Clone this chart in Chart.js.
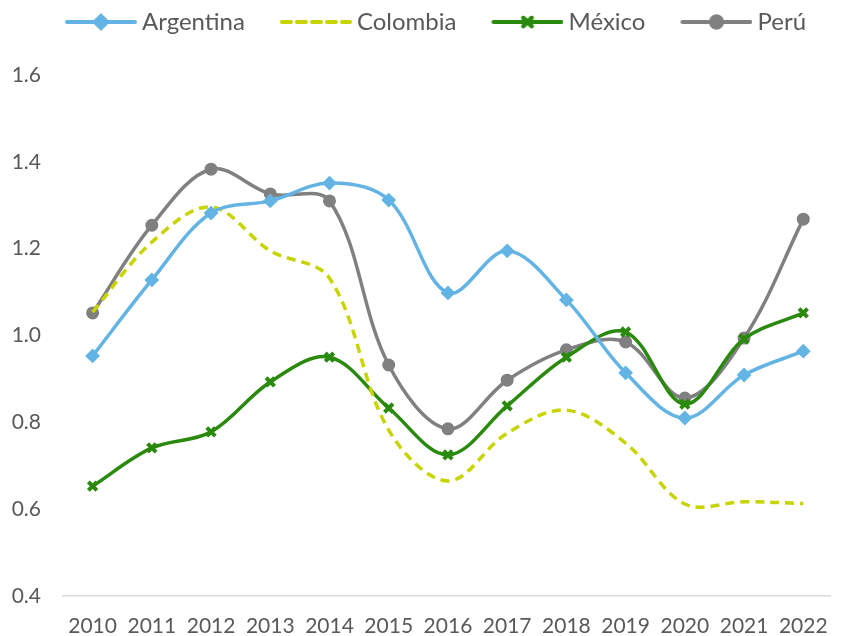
<!DOCTYPE html>
<html>
<head>
<meta charset="utf-8">
<script src="https://cdn.jsdelivr.net/npm/chart.js@4"></script>
<style>
  html, body { margin: 0; padding: 0; background: #fff; }
  #wrap { width: 846px; height: 636px; }
</style>
</head>
<body>
<div id="wrap"><canvas id="chart" width="846" height="636"></canvas></div>
<script>
const years = [2010, 2011, 2012, 2013, 2014, 2015, 2016, 2017, 2018, 2019, 2020, 2021, 2022];
const argentina = [0.953, 1.128, 1.282, 1.310, 1.351, 1.312, 1.098, 1.195, 1.082, 0.914, 0.810, 0.909, 0.964];
const colombia = [1.054, 1.215, 1.296, 1.195, 1.132, 0.782, 0.665, 0.775, 0.828, 0.752, 0.612, 0.617, 0.613];
const mexico = [0.653, 0.741, 0.778, 0.893, 0.950, 0.833, 0.725, 0.838, 0.950, 1.008, 0.842, 0.992, 1.052];
const peru = [1.052, 1.254, 1.383, 1.326, 1.310, 0.932, 0.785, 0.897, 0.967, 0.985, 0.856, 0.994, 1.268];
const yTicks = [0.4, 0.6, 0.8, 1.0, 1.2, 1.4, 1.6];

const FONT = 'Lato, "Open Sans", sans-serif';
const TEXT = '#595959';

const series = [
  { label: 'Argentina', data: argentina, color: '#63B4E4', marker: 'rectRot', radius: 6, dash: [] },
  { label: 'Colombia', data: colombia, color: '#C8D400', marker: false, radius: 0, dash: [9, 6] },
  { label: 'México', data: mexico, color: '#2A8A0E', marker: 'crossRot', radius: 6, dash: [] },
  { label: 'Perú', data: peru, color: '#808080', marker: 'circle', radius: 5.5, dash: [] }
];

// legend sample: line with a marker in the middle (drawn on a small canvas)
function legendSample(s) {
  const c = document.createElement('canvas');
  c.width = 104; c.height = 18;
  const g = c.getContext('2d');
  g.strokeStyle = s.color;
  g.lineWidth = 4;
  g.lineCap = 'round';
  g.setLineDash(s.dash);
  g.beginPath();
  g.moveTo(34, 9);
  g.lineTo(102, 9);
  g.stroke();
  g.setLineDash([]);
  if (s.marker) {
    Chart.helpers.drawPoint(g, {
      pointStyle: s.marker, radius: s.radius, rotation: 0, borderWidth: s.marker === 'crossRot' ? 4 : 2
    }, 68, 9);
    g.fillStyle = s.color;
    g.fill();
    g.stroke();
  }
  return c;
}

const legendGap = {
  id: 'legendGap',
  beforeInit(chart) {
    const fit = chart.legend.fit;
    chart.legend.fit = function () {
      fit.call(this);
      this.height += 31;
    };
  }
};

new Chart(document.getElementById('chart'), {
  type: 'line',
  data: {
    datasets: series.map(s => ({
      label: s.label,
      data: s.data.map((v, i) => ({ x: years[i], y: v })),
      borderColor: s.color,
      backgroundColor: s.color,
      borderWidth: 3.5,
      borderDash: s.dash,
      tension: 0.35,
      pointStyle: s.marker || 'circle',
      pointRadius: s.radius,
      pointHoverRadius: s.radius,
      pointBorderWidth: s.marker === 'crossRot' ? 4 : 2,
      pointBorderColor: s.color,
      pointBackgroundColor: s.color,
      legendSample: legendSample(s)
    }))
  },
  options: {
    responsive: false,
    animation: false,
    layout: { padding: 0 },
    plugins: {
      legend: {
        position: 'top',
        labels: {
          usePointStyle: true,
          pointStyleWidth: 90,
          boxHeight: 18,
          padding: 10,
          color: TEXT,
          font: { family: FONT, size: 24 },
          generateLabels(chart) {
            return chart.data.datasets.map((ds, i) => ({
              text: ds.label,
              fontColor: TEXT,
              pointStyle: ds.legendSample,
              lineWidth: 0,
              strokeStyle: 'rgba(0,0,0,0)',
              fillStyle: 'rgba(0,0,0,0)',
              datasetIndex: i
            }));
          }
        }
      },
      tooltip: { enabled: false }
    },
    scales: {
      x: {
        type: 'linear',
        min: 2009.5,
        max: 2022.46,
        afterFit(scale) { scale.height = 40; },
        afterBuildTicks(scale) { scale.ticks = years.map(y => ({ value: y })); },
        grid: { display: false, drawTicks: false },
        border: { display: true, color: '#D9D9D9', width: 1.5 },
        ticks: {
          color: TEXT,
          font: { family: FONT, size: 21 },
          padding: 18,
          maxRotation: 0,
          autoSkip: false,
          callback: v => String(v)
        }
      },
      y: {
        min: 0.4,
        max: 1.6,
        afterFit(scale) { scale.width = 63; },
        afterBuildTicks(scale) { scale.ticks = yTicks.map(v => ({ value: v })); },
        grid: { display: false, drawTicks: false },
        border: { display: false },
        ticks: {
          color: TEXT,
          font: { family: FONT, size: 21 },
          padding: 22,
          callback: v => v.toFixed(1)
        }
      }
    }
  },
  plugins: [legendGap]
});
</script>
</body>
</html>
